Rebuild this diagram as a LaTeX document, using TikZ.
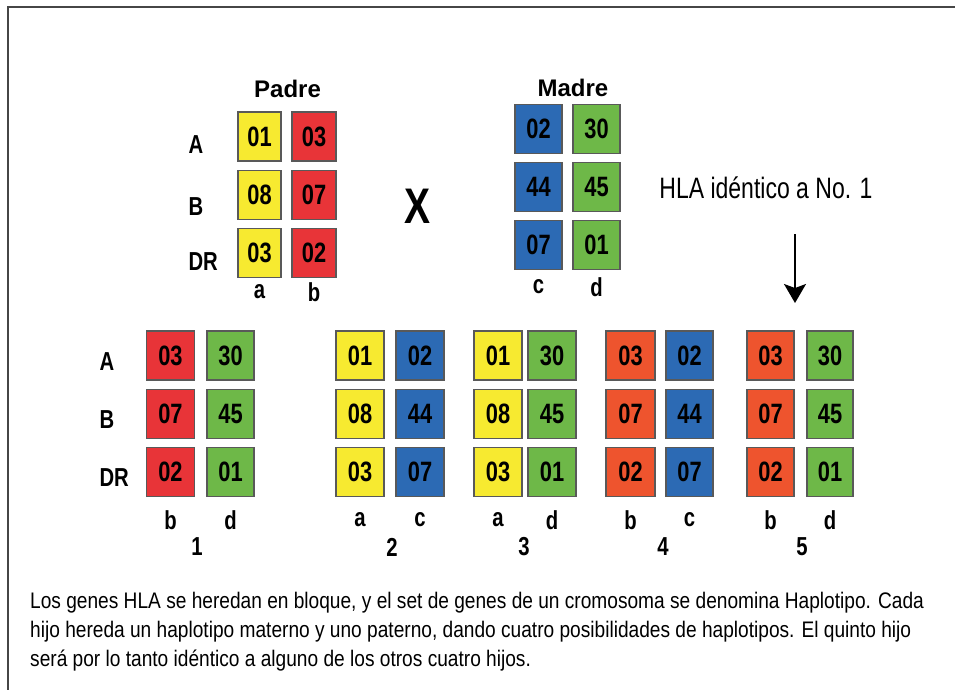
\documentclass[tikz,border=0pt]{standalone}
\usepackage{fontspec}
\setmainfont{Liberation Sans}
\newfontfamily\narrowfont[FakeStretch=0.78]{Liberation Sans}
\newfontfamily\notefont[FakeStretch=0.85]{Liberation Sans}
\usetikzlibrary{arrows.meta, positioning}
\definecolor{alleleyellow}{RGB}{247, 234, 48}
\definecolor{allelered}{RGB}{232, 52, 56}
\definecolor{alleleorange}{RGB}{238, 84, 46}
\definecolor{alleleblue}{RGB}{44, 106, 180}
\definecolor{allelegreen}{RGB}{110, 184, 72}
\definecolor{framegray}{RGB}{70, 70, 70}

\begin{document}
\begin{tikzpicture}[
    x=1pt, y=-1pt,
    cell/.style={rectangle, draw=black!65, line width=1.1pt, minimum height=49pt, inner sep=0pt, font=\narrowfont\bfseries\fontsize{28pt}{30pt}\selectfont},
    locus/.style={anchor=west, font=\narrowfont\bfseries\fontsize{26pt}{28pt}\selectfont},
    hap/.style={font=\narrowfont\bfseries\fontsize{26pt}{28pt}\selectfont},
    parent/.style={font=\bfseries\fontsize{24pt}{26pt}\selectfont},
    inherit/.style={-{Stealth[length=19pt, width=22pt, inset=4pt]}, line width=1.6pt}
]
    \useasboundingbox (0,0) rectangle (955,690);
    \draw[framegray, line width=2pt] (8,690) -- (8,7) -- (955,7);

    % parents
    \node[parent] (padre) at (287.5,89) {Padre};
    \node[parent] (madre) at (573,88) {Madre};
    \node[locus] (pA) at (185,145) {A};
    \node[locus] (pB) at (185,207) {B};
    \node[locus] (pDR) at (185,262) {DR};
    \node[font=\narrowfont\bfseries\fontsize{50pt}{52pt}\selectfont] (cross) at (417,206) {X};

    % haplotype columns: name/x/y/width/colour/A/B/DR/label/label y
    \foreach \id/\cx/\cy/\w/\clr/\va/\vb/\vc/\lab/\ly in {
        pa/259.5/136.5/43/alleleyellow/01/08/03/a/292,
        pb/314/136.5/44/allelered/03/07/02/b/292,
        mc/538.5/129/47/alleleblue/02/44/07/c/287,
        md/596.5/129/47/allelegreen/30/45/01/d/287,
        h1b/170.5/355.5/48/allelered/03/07/02/b/520,
        h1d/230.5/355.5/47/allelegreen/30/45/01/d/520,
        h2a/360/355.5/48/alleleyellow/01/08/03/a/520,
        h2c/420/355.5/48/alleleblue/02/44/07/c/520,
        h3a/498/355.5/48/alleleyellow/01/08/03/a/520,
        h3d/552/355.5/48/allelegreen/30/45/01/d/520,
        h4b/630.5/355.5/49/alleleorange/03/07/02/b/520,
        h4c/689.5/355.5/47/alleleblue/02/44/07/c/520,
        h5b/770.5/355.5/47/alleleorange/03/07/02/b/520,
        h5d/830/355.5/46/allelegreen/30/45/01/d/520} {
        \node[cell, fill=\clr, minimum width=\w pt] (\id-1) at (\cx,\cy) {\va};
        \node[cell, fill=\clr, minimum width=\w pt, below=8pt of \id-1] (\id-2) {\vb};
        \node[cell, fill=\clr, minimum width=\w pt, below=8pt of \id-2] (\id-3) {\vc};
        \node[hap] (\id-l) at (\cx,\ly) {\lab};
    }

    % children
    \node[locus] (cA) at (96,362) {A};
    \node[locus] (cB) at (96,420) {B};
    \node[locus] (cDR) at (96,478) {DR};
    \node[hap] (n1) at (197,547) {1};
    \node[hap] (n2) at (392,547) {2};
    \node[hap] (n3) at (524,547) {3};
    \node[hap] (n4) at (663,547) {4};
    \node[hap] (n5) at (802,547) {5};

    \node[font=\narrowfont\fontsize{29.5pt}{32pt}\selectfont] (ident) at (766,188) {HLA idéntico a No. 1};
    \coordinate (arrtop) at (795,234);
    \coordinate (arrend) at (795,303);
    \draw[inherit] (arrtop) -- (arrend);

    \node[anchor=north west, align=left, inner sep=0pt, font=\notefont\fontsize{22.5pt}{29pt}\selectfont] (caption) at (30,592) {Los genes HLA se heredan en bloque, y el set de genes de un cromosoma se denomina Haplotipo. Cada\\hijo hereda un haplotipo materno y uno paterno, dando cuatro posibilidades de haplotipos. El quinto hijo\\será por lo tanto idéntico a alguno de los otros cuatro hijos.};
\end{tikzpicture}
\end{document}
